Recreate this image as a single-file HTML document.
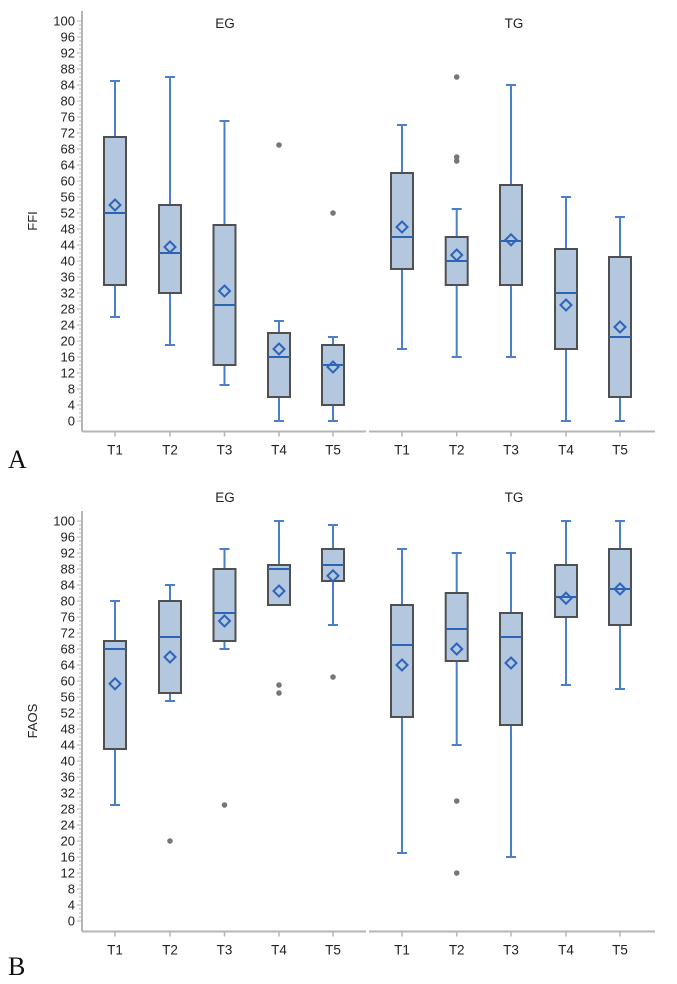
<!DOCTYPE html>
<html><head><meta charset="utf-8"><style>
html,body{margin:0;padding:0;background:#fff;}
svg{display:block;font-family:"Liberation Sans","DejaVu Sans",sans-serif;}
</style></head><body>
<svg id="chart" width="677" height="984" viewBox="0 0 677 984"></svg>
<script>
const categories = ["T1","T2","T3","T4","T5"];
const groups = ["EG","TG"];
const yTicks = [0,4,8,12,16,20,24,28,32,36,40,44,48,52,56,60,64,68,72,76,80,84,88,92,96,100];
// FFI [lo,q1,med,q3,hi]
const ffiEG = [[26,34,52,71,85],[19,32,42,54,86],[9,14,29,49,75],[0,6,16,22,25],[0,4,14,19,21]];
const ffiEGMean = [54,43.5,32.5,18,13.5];
const ffiEGOut = [[],[],[],[69],[52]];
const ffiTG = [[18,38,46,62,74],[16,34,40,46,53],[16,34,45,59,84],[0,18,32,43,56],[0,6,21,41,51]];
const ffiTGMean = [48.5,41.5,45.3,29,23.5];
const ffiTGOut = [[],[86,66,65],[],[],[]];
const faosEG = [[29,43,68,70,80],[55,57,71,80,84],[68,70,77,88,93],[79,79,88,89,100],[74,85,89,93,99]];
const faosEGMean = [59.3,66,75,82.5,86.3];
const faosEGOut = [[],[20],[29],[59,57],[61]];
const faosTG = [[17,51,69,79,93],[44,65,73,82,92],[16,49,71,77,92],[59,76,81,89,100],[58,74,83,93,100]];
const faosTGMean = [64,68,64.5,80.7,83];
const faosTGOut = [[],[30,12],[],[],[]];

const NS="http://www.w3.org/2000/svg";
const svg=document.getElementById('chart');
function mk(tag,attrs,parent){const e=document.createElementNS(NS,tag);for(const k in attrs)e.setAttribute(k,attrs[k]);(parent||svg).appendChild(e);return e;}

const catX=[[115,170,224.5,279,333],[402,456.7,511,566,620]];

function panel(top,title,data,letter,letterY,titleY){
  const y0=top+400, y100=top;
  const ys=v=>y0-(y0-y100)*v/100;
  const g=mk('g',{});
  
  
  const axisY=y0+10.5;
  const ya=mk('line',{x1:82,y1:top-10,x2:82,y2:axisY,stroke:'#b5b5b5','stroke-width':2},g);
  
  
  for(let v=0;v<=100;v++){
    mk('line',{x1:v%4===0?77:79,y1:ys(v),x2:82,y2:ys(v),stroke:'#b5b5b5','stroke-width':1},g);
  }
  yTicks.forEach(v=>{
    const t=mk('text',{x:75,y:ys(v)+4.5,'text-anchor':'end','font-size':13,fill:'#222'},g);
    t.textContent=v;
    
    
  });
  const yt=mk('text',{x:37,y:(y0+y100)/2,'text-anchor':'middle','font-size':13,fill:'#222',transform:`rotate(-90 37 ${(y0+y100)/2})`},g);
  yt.textContent=title;
  
  
  const xa1=mk('line',{x1:82,y1:axisY,x2:366,y2:axisY,stroke:'#b5b5b5','stroke-width':2},g);
  
  
  const xa2=mk('line',{x1:369,y1:axisY,x2:655,y2:axisY,stroke:'#b5b5b5','stroke-width':2},g);
  
  
  groups.forEach((gr,gi)=>{
    const gt=mk('text',{x:gi?514:225,y:titleY,'text-anchor':'middle','font-size':13.5,fill:'#222'},g);
    gt.textContent=gr;
    
    
    const d=data[gi];
    categories.forEach((c,ci)=>{
      const x=catX[gi][ci];
      mk('line',{x1:x,y1:axisY,x2:x,y2:axisY+5,stroke:'#b5b5b5','stroke-width':1.5},g);
      const tl=mk('text',{x:x,y:axisY+23,'text-anchor':'middle','font-size':13.5,fill:'#222'},g);
      tl.textContent=c;
      
      
      const [lo,q1,md,q3,hi]=d.box[ci];
      const bg=mk('g',{},g);
      
      
      mk('line',{x1:x,y1:ys(hi),x2:x,y2:ys(lo),stroke:'#4a7fcc','stroke-width':2},bg);
      mk('line',{x1:x-5,y1:ys(hi),x2:x+5,y2:ys(hi),stroke:'#4a7fcc','stroke-width':2},bg);
      mk('line',{x1:x-5,y1:ys(lo),x2:x+5,y2:ys(lo),stroke:'#4a7fcc','stroke-width':2},bg);
      mk('rect',{x:x-11,y:ys(q3),width:22,height:ys(q1)-ys(q3),fill:'#b3c7df',stroke:'#505050','stroke-width':2},bg);
      mk('line',{x1:x-11,y1:ys(md),x2:x+11,y2:ys(md),stroke:'#2d63b3','stroke-width':2},bg);
      const m=ys(d.mean[ci]);
      mk('path',{d:`M${x} ${m-5.5}L${x+5.5} ${m}L${x} ${m+5.5}L${x-5.5} ${m}Z`,fill:'none',stroke:'#2f64b8','stroke-width':2},bg);
      d.out[ci].forEach(o=>{
        const p=mk('circle',{cx:x,cy:ys(o),r:2.8,fill:'#777'},bg);
        
        
      });
    });
  });
  const L=mk('text',{x:8,y:letterY,'font-family':'"Liberation Serif",serif','font-size':26,fill:'#111'},g);
  L.textContent=letter;
  
  
}
panel(21,'FFI',[{box:ffiEG,mean:ffiEGMean,out:ffiEGOut},{box:ffiTG,mean:ffiTGMean,out:ffiTGOut}],'A',468,28);
panel(521,'FAOS',[{box:faosEG,mean:faosEGMean,out:faosEGOut},{box:faosTG,mean:faosTGMean,out:faosTGOut}],'B',975,502);
</script>
</body></html>
